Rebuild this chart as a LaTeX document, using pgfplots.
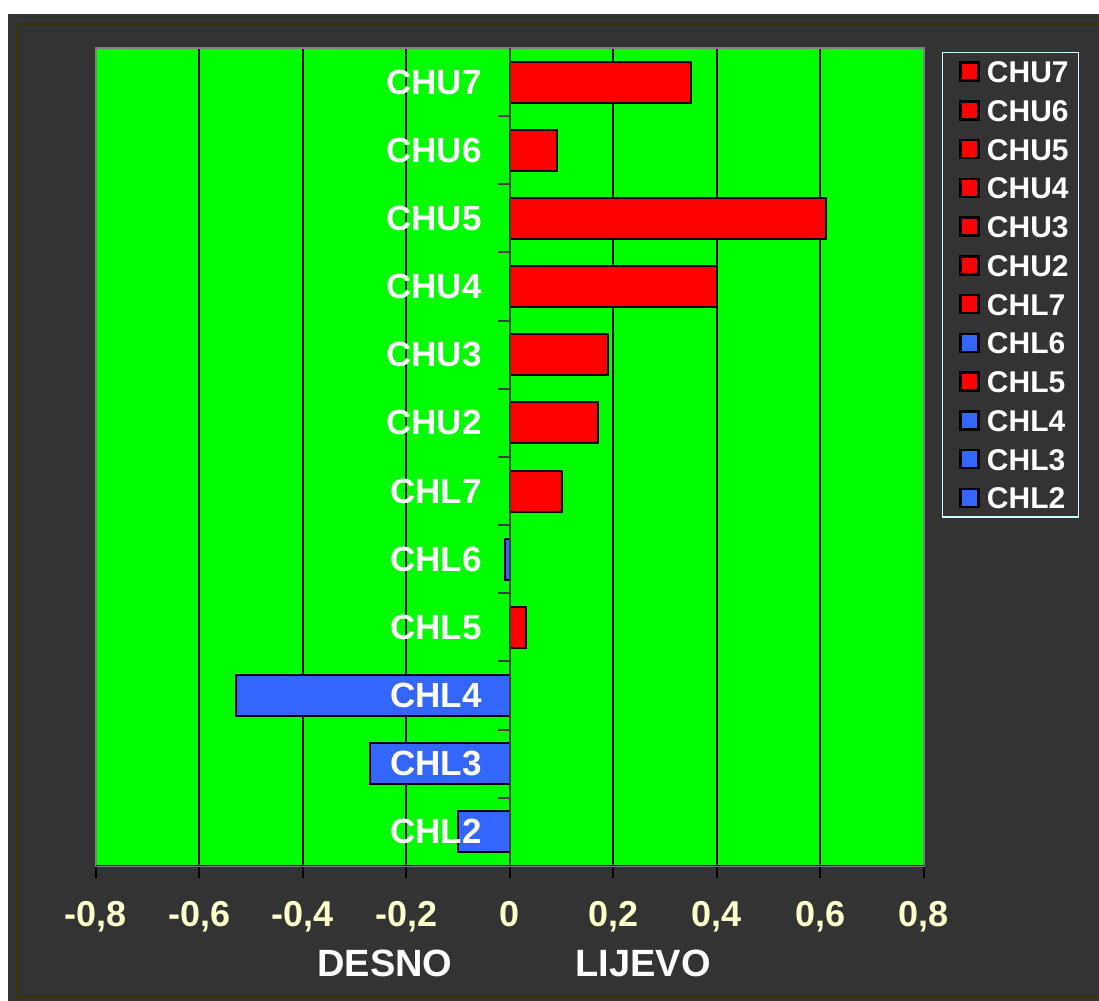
\documentclass[border=0pt]{standalone}
\usepackage{pgfplots}
\pgfplotsset{compat=1.18}
\usepackage{fontspec}
\setmainfont{Liberation Sans}
\definecolor{bg}{HTML}{333333}
\definecolor{plotgreen}{HTML}{00FF00}
\definecolor{barred}{HTML}{FF0000}
\definecolor{barblue}{HTML}{3366FF}
\definecolor{cream}{HTML}{FFFFCC}
\definecolor{framecol}{HTML}{3A3300}
\definecolor{legborder}{HTML}{CCFFFF}
\definecolor{zeroline}{HTML}{404040}
\begin{document}
\begin{tikzpicture}[x=1pt,y=1pt]
\useasboundingbox (0,0) rectangle (549.5,500.5);
\clip (0,0) rectangle (549.5,500.5);
\fill[white] (0,0) rectangle (549.5,500.5);
\fill[bg] (4,0) rectangle (549.5,493.5);
\draw[framecol, line width=1pt] (9,2.5) rectangle (552,488.5);
\begin{axis}[
  at={(48pt,67.5pt)}, anchor=south west, scale only axis,
  width=414pt, height=409pt,
  xmin=-0.8, xmax=0.8, ymin=-0.5, ymax=11.5,
  axis background/.style={fill=plotgreen},
  axis line style={draw=gray, line width=1pt},
  xtick={-0.8,-0.6,-0.4,-0.2,0,0.2,0.4,0.6,0.8},
  xticklabels={{-0,8},{-0,6},{-0,4},{-0,2},{0},{0,2},{0,4},{0,6},{0,8}},
  xtick pos=bottom, tick align=outside, major tick length=6pt,
  tick style={black, line width=1pt},
  xticklabel style={text=cream, font=\bfseries\fontsize{18}{20}\selectfont, yshift=-8pt},
  ytick=\empty,
  xmajorgrids, grid style={black, line width=1pt},
  legend style={at={(1,1)}, anchor=north west, xshift=9pt, yshift=-2pt,
    fill=bg, draw=legborder, line width=0.75pt, text=white,
    font=\bfseries\fontsize{15}{17}\selectfont, row sep=8.375pt,
    nodes={inner sep=0pt, text height=11pt, text depth=0pt},
    /tikz/every odd column/.append style={column sep=3.5pt},
    inner xsep=5pt, inner ysep=4pt},
  legend cell align=left,
  legend image code/.code={\path (0pt,0pt); \draw[#1, draw=black, line width=1.25pt] (3.5pt,-4.5pt) rectangle (12.5pt,4.5pt);},
]
\addplot[xbar, bar shift=0pt, bar width=20.5pt, fill=barred, draw=black, line width=1pt] coordinates {(0.35,11)};
\addlegendentry{CHU7}
\addplot[xbar, bar shift=0pt, bar width=20.5pt, fill=barred, draw=black, line width=1pt] coordinates {(0.09,10)};
\addlegendentry{CHU6}
\addplot[xbar, bar shift=0pt, bar width=20.5pt, fill=barred, draw=black, line width=1pt] coordinates {(0.61,9)};
\addlegendentry{CHU5}
\addplot[xbar, bar shift=0pt, bar width=20.5pt, fill=barred, draw=black, line width=1pt] coordinates {(0.40,8)};
\addlegendentry{CHU4}
\addplot[xbar, bar shift=0pt, bar width=20.5pt, fill=barred, draw=black, line width=1pt] coordinates {(0.19,7)};
\addlegendentry{CHU3}
\addplot[xbar, bar shift=0pt, bar width=20.5pt, fill=barred, draw=black, line width=1pt] coordinates {(0.17,6)};
\addlegendentry{CHU2}
\addplot[xbar, bar shift=0pt, bar width=20.5pt, fill=barred, draw=black, line width=1pt] coordinates {(0.10,5)};
\addlegendentry{CHL7}
\addplot[xbar, bar shift=0pt, bar width=20.5pt, fill=barblue, draw=black, line width=1pt] coordinates {(-0.01,4)};
\addlegendentry{CHL6}
\addplot[xbar, bar shift=0pt, bar width=20.5pt, fill=barred, draw=black, line width=1pt] coordinates {(0.03,3)};
\addlegendentry{CHL5}
\addplot[xbar, bar shift=0pt, bar width=20.5pt, fill=barblue, draw=black, line width=1pt] coordinates {(-0.53,2)};
\addlegendentry{CHL4}
\addplot[xbar, bar shift=0pt, bar width=20.5pt, fill=barblue, draw=black, line width=1pt] coordinates {(-0.27,1)};
\addlegendentry{CHL3}
\addplot[xbar, bar shift=0pt, bar width=20.5pt, fill=barblue, draw=black, line width=1pt] coordinates {(-0.10,0)};
\addlegendentry{CHL2}
% zero line and category ticks
\draw[zeroline, line width=1pt] (axis cs:0,-0.5) -- (axis cs:0,11.5);
\pgfplotsinvokeforeach{0.5,1.5,2.5,3.5,4.5,5.5,6.5,7.5,8.5,9.5,10.5}{
  \draw[zeroline, line width=1pt] (axis cs:0,#1) -- ++(-6pt,0pt);
}
\draw[black, line width=1pt] (rel axis cs:0,0) -- (rel axis cs:1,0);
% category labels
\foreach \k/\lab in {0/CHL2,1/CHL3,2/CHL4,3/CHL5,4/CHL6,5/CHL7,6/CHU2,7/CHU3,8/CHU4,9/CHU5,10/CHU6,11/CHU7}{
  \edef\tmp{\noexpand\node[anchor=east, inner sep=0pt, text=white, font=\noexpand\bfseries\noexpand\fontsize{17.5}{20}\noexpand\selectfont] at (axis cs:-0.054,\k) {\lab};}
  \tmp
}
\end{axis}
\node[text=white, font=\bfseries\fontsize{19}{21}\selectfont] at (192.5,19) {DESNO};
\node[text=white, font=\bfseries\fontsize{19}{21}\selectfont] at (321.5,19) {LIJEVO};
\end{tikzpicture}
\end{document}
